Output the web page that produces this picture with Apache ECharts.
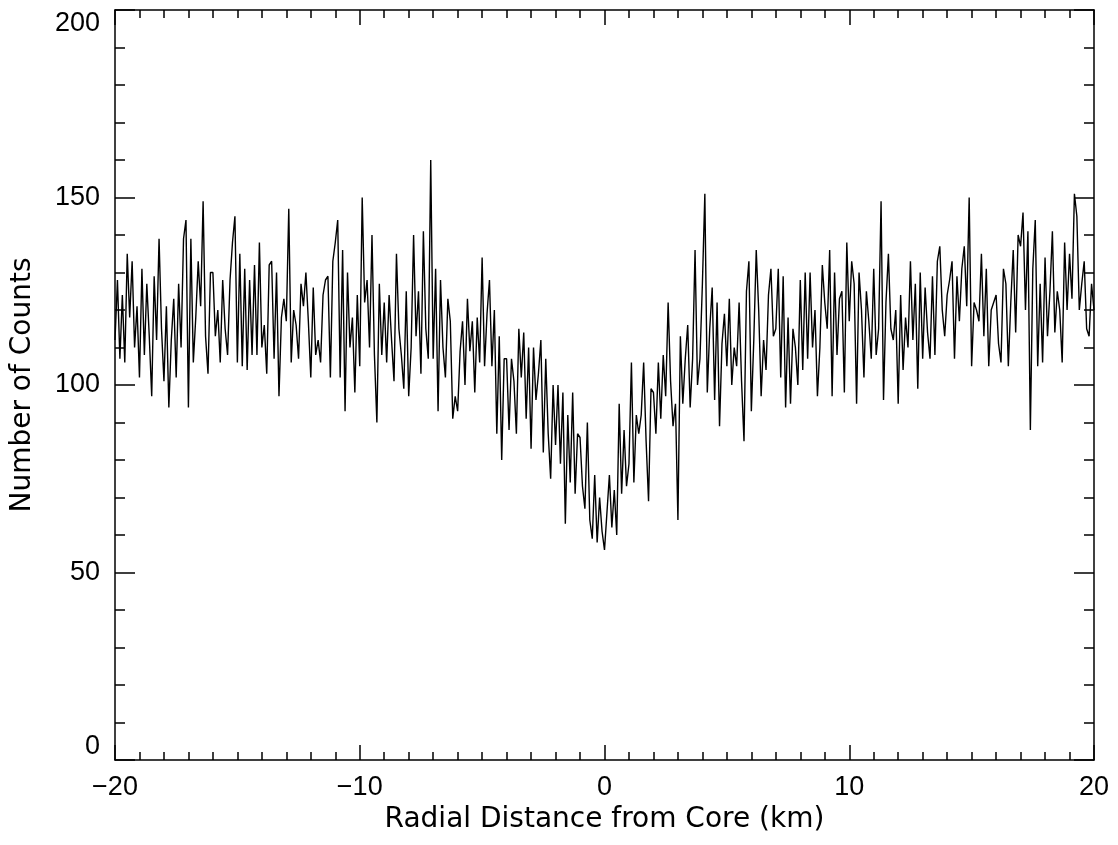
<!DOCTYPE html>
<html>
<head>
<meta charset="utf-8">
<script src="https://cdn.jsdelivr.net/npm/echarts@6/dist/echarts.min.js"></script>
<style>
  html, body { margin: 0; padding: 0; background: #fff; }
  #chart { width: 1118px; height: 845px; }
</style>
</head>
<body>
<div id="chart"></div>
<script>
// Radial profile of counts, sampled every 0.1 km from -20 km to +20 km
const xStart = -20;
const xStep = 0.1;
const xTicks = [-20, -10, 0, 10, 20];
const yTicks = [0, 50, 100, 150, 200];

// one row per kilometre (10 samples each), plus the closing sample at +20 km
const counts = [
  112, 128, 107, 124, 106, 135, 118, 133, 110, 121,
  102, 131, 108, 127, 113, 97, 129, 112, 139, 115,
  101, 121, 94, 112, 123, 102, 127, 110, 139, 144,
  94, 139, 106, 118, 133, 121, 149, 113, 103, 130,
  130, 113, 120, 106, 128, 115, 108, 128, 138, 145,
  106, 135, 105, 131, 104, 128, 108, 132, 108, 138,
  110, 116, 103, 132, 133, 107, 130, 97, 118, 123,
  117, 147, 106, 120, 116, 107, 127, 121, 130, 117,
  102, 126, 108, 112, 106, 124, 128, 129, 102, 133,
  138, 144, 102, 136, 93, 130, 110, 118, 98, 124,
  105, 150, 122, 128, 110, 140, 108, 90, 127, 108,
  122, 106, 124, 112, 101, 135, 115, 108, 99, 125,
  97, 110, 140, 113, 125, 103, 141, 115, 107, 160,
  107, 131, 93, 128, 110, 102, 123, 117, 91, 97,
  93, 109, 117, 100, 123, 109, 117, 98, 118, 106,
  134, 105, 119, 128, 105, 120, 87, 113, 80, 107,
  107, 88, 107, 101, 87, 115, 102, 114, 91, 110,
  83, 110, 96, 103, 112, 82, 107, 87, 75, 100,
  84, 100, 79, 98, 63, 92, 74, 98, 71, 87,
  86, 73, 67, 90, 64, 59, 76, 58, 70, 61,
  56, 66, 76, 62, 72, 60, 95, 71, 88, 73,
  79, 106, 74, 92, 87, 92, 106, 85, 69, 99,
  98, 87, 106, 91, 108, 97, 122, 101, 89, 95,
  64, 113, 95, 107, 116, 94, 107, 136, 100, 107,
  127, 151, 98, 115, 126, 96, 122, 89, 111, 119,
  105, 123, 100, 110, 105, 122, 101, 85, 125, 133,
  93, 112, 136, 120, 97, 112, 104, 124, 131, 113,
  115, 131, 102, 129, 94, 118, 95, 115, 110, 100,
  128, 104, 130, 107, 130, 110, 120, 97, 110, 132,
  122, 115, 136, 97, 130, 108, 123, 125, 98, 138,
  117, 133, 127, 95, 130, 120, 102, 125, 117, 107,
  131, 108, 115, 149, 96, 122, 135, 115, 112, 120,
  95, 124, 104, 118, 110, 133, 112, 127, 99, 130,
  107, 126, 114, 107, 129, 108, 133, 137, 120, 113,
  124, 128, 133, 107, 129, 117, 131, 137, 121, 150,
  105, 122, 120, 117, 135, 113, 131, 105, 120, 122,
  124, 111, 106, 131, 127, 105, 122, 136, 114, 140,
  137, 146, 120, 141, 88, 131, 144, 105, 127, 106,
  134, 113, 125, 141, 114, 125, 120, 106, 138, 120,
  135, 123, 151, 145, 120, 127, 133, 115, 113, 127,
  120
];

const points = counts.map((c, i) => [+(xStart + i * xStep).toFixed(2), c]);

const TICK_FONT = '"Liberation Sans", Arial, sans-serif';
const NAME_FONT = '"DejaVu Sans", "Liberation Sans", sans-serif';
const INK = '#000';
const lineStyle = { color: INK, width: 1.5 };

function frameAxis(extra) {
  return Object.assign({
    type: 'value',
    axisLine: { show: true, onZero: false, lineStyle },
    splitLine: { show: false },
    minorSplitLine: { show: false }
  }, extra);
}

const xFmt = v => xTicks.includes(v) ? String(v).replace('-', '\u2212') : '';
const yFmt = v => yTicks.includes(v) ? String(v) : '';

const chart = echarts.init(document.getElementById('chart'), null, { renderer: 'canvas' });
chart.setOption({
  animation: false,
  backgroundColor: '#fff',
  grid: { left: 115, right: 24, top: 10, bottom: 85, containLabel: false },
  xAxis: [
    frameAxis({
      position: 'bottom', min: -20, max: 20, interval: 10,
      axisTick: { show: true, inside: true, length: 15, lineStyle },
      minorTick: { show: true, splitNumber: 10, length: 8, lineStyle },
      axisLabel: { show: true, formatter: xFmt, margin: 14, fontSize: 27, color: INK, fontFamily: TICK_FONT },
      name: 'Radial Distance from Core (km)', nameLocation: 'middle', nameGap: 27,
      nameTextStyle: { fontSize: 28, color: INK, fontFamily: NAME_FONT, verticalAlign: 'top' }
    }),
    frameAxis({
      position: 'top', min: -20, max: 20, interval: 10,
      axisTick: { show: true, inside: true, length: 15, lineStyle },
      minorTick: { show: true, splitNumber: 10, length: 8, lineStyle },
      axisLabel: { show: false }
    })
  ],
  yAxis: [
    frameAxis({
      position: 'left', min: 0, max: 200, interval: 50,
      axisTick: { show: true, inside: true, length: 20, lineStyle },
      minorTick: { show: true, splitNumber: 5, length: 10, lineStyle },
      axisLabel: {
        show: true, formatter: yFmt, margin: 15, fontSize: 27, color: INK, fontFamily: TICK_FONT,
        verticalAlignMinLabel: 'bottom', verticalAlignMaxLabel: 'top'
      },
      name: 'Number of Counts', nameLocation: 'middle', nameGap: 78, nameRotate: 90,
      nameTextStyle: { fontSize: 28, color: INK, fontFamily: NAME_FONT }
    }),
    frameAxis({
      position: 'right', min: 0, max: 200, interval: 50,
      axisTick: { show: true, inside: true, length: 20, lineStyle },
      minorTick: { show: true, splitNumber: 5, length: 10, lineStyle },
      axisLabel: { show: false }
    })
  ],
  series: [{
    type: 'line',
    xAxisIndex: 0,
    yAxisIndex: 0,
    data: points,
    showSymbol: false,
    symbol: 'none',
    lineStyle: { color: INK, width: 1.4 },
    silent: true
  }]
});
</script>
</body>
</html>
